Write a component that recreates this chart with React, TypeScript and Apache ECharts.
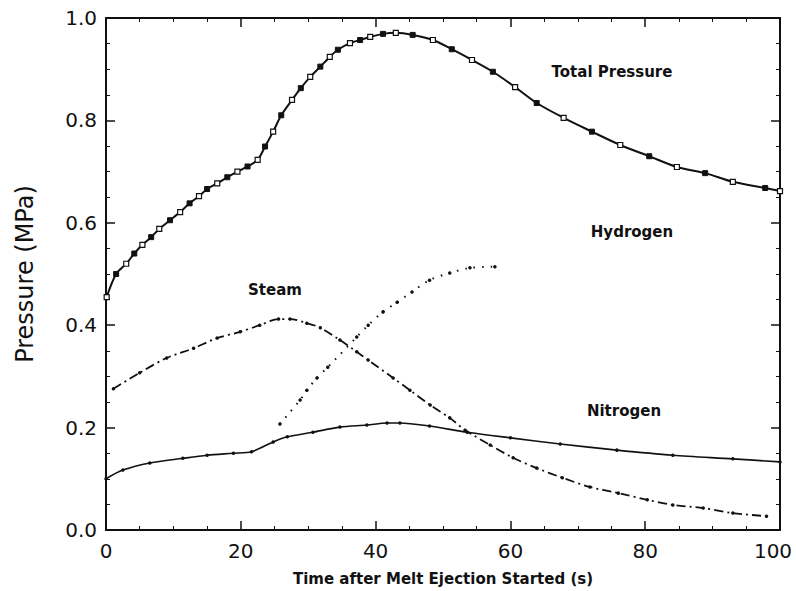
import React, { useEffect, useRef } from "react";
import * as echarts from "echarts";

const totalT = [0.1, 1.5, 3, 4.2, 5.4, 6.7, 7.9, 9.5, 11, 12.4, 13.8, 15, 16.5, 18, 19.5, 21, 22.5, 23.6, 24.8, 26, 27.6, 28.9, 30.3, 31.8, 33.2, 34.4, 36.2, 37.7, 39.2, 41.1, 43, 45.5, 48.5, 51.3, 54.3, 57.4, 60.7, 63.9, 67.9, 72.1, 76.3, 80.6, 84.7, 88.9, 93, 97.8, 100];
const totalP = [0.455, 0.5, 0.52, 0.54, 0.557, 0.572, 0.588, 0.605, 0.621, 0.638, 0.652, 0.666, 0.677, 0.689, 0.7, 0.71, 0.723, 0.749, 0.778, 0.81, 0.84, 0.863, 0.885, 0.905, 0.924, 0.938, 0.951, 0.957, 0.963, 0.969, 0.971, 0.967, 0.957, 0.939, 0.918, 0.895, 0.865, 0.834, 0.805, 0.778, 0.752, 0.73, 0.709, 0.697, 0.68, 0.668, 0.662];

const steamT = [1.1, 5, 9, 13, 16.5, 19.9, 22.8, 25.6, 27.3, 29.8, 31.8, 34.7, 37.2, 38.9, 42.6, 45.1, 48.1, 51, 53.3, 57, 60.4, 63.9, 67.7, 71.8, 76, 80.3, 84.1, 88.6, 93, 98];
const steamP = [0.276, 0.307, 0.336, 0.355, 0.375, 0.387, 0.4, 0.412, 0.412, 0.404, 0.395, 0.371, 0.348, 0.332, 0.297, 0.273, 0.244, 0.219, 0.195, 0.166, 0.141, 0.121, 0.102, 0.084, 0.072, 0.059, 0.049, 0.043, 0.033, 0.027];

const nitrogenT = [0, 2.5, 6.5, 11.4, 15, 18.9, 21.6, 24.8, 26.9, 30.7, 34.7, 38.7, 41.7, 43.6, 48, 53.6, 60, 67.4, 75.8, 84.1, 93, 100];
const nitrogenP = [0.1, 0.117, 0.131, 0.14, 0.146, 0.15, 0.153, 0.172, 0.182, 0.191, 0.201, 0.205, 0.209, 0.209, 0.203, 0.191, 0.18, 0.168, 0.156, 0.146, 0.139, 0.133];

const hydrogenT = [25.8, 28.8, 29.8, 31.3, 32.9, 37.2, 38.9, 41.1, 43.2, 45.4, 48, 51, 54, 57.7];
const hydrogenP = [0.207, 0.254, 0.273, 0.297, 0.318, 0.377, 0.4, 0.426, 0.445, 0.465, 0.488, 0.502, 0.512, 0.514];

const xTicks = [0, 20, 40, 60, 80, 100];
const yTicks = [0, 0.2, 0.4, 0.6, 0.8, 1.0];

const seriesLabels = [
  { text: "Total Pressure", x: 612, y: 72 },
  { text: "Hydrogen", x: 632, y: 232 },
  { text: "Steam", x: 275, y: 290 },
  { text: "Nitrogen", x: 624, y: 411 },
];

const zip = (a: number[], b: number[]) => a.map((v, i) => [v, b[i]]);

export default function App() {
  const ref = useRef<HTMLDivElement>(null);
  useEffect(() => {
    if (!ref.current) return;
    const chart = echarts.init(ref.current, null, { renderer: "svg" });
    const font = "'DejaVu Sans', 'Liberation Sans', sans-serif";
    const black = "#111";
    const baseAxis = {
      type: "value" as const,
      axisLine: { show: true, onZero: false, lineStyle: { color: black, width: 2 } },
      axisTick: { show: true, inside: true, length: 9, lineStyle: { color: black, width: 1.5 } },
      minorTick: { show: true, splitNumber: 4, length: 4, lineStyle: { color: black, width: 1 } },
      splitLine: { show: false },
    };
    const totalData = zip(totalT, totalP).map((d, i) => ({
      value: d,
      itemStyle: i % 2 === 0 ? { color: "#fff", borderColor: black, borderWidth: 1.2 } : { color: black, borderColor: black, borderWidth: 1 },
    }));
    const lastX = xTicks[xTicks.length - 1];
    chart.setOption({
      animation: false,
      backgroundColor: "#fff",
      grid: { left: 106, right: 16, top: 18, bottom: 61, containLabel: false, outerBoundsMode: "none" },
      xAxis: [
        {
          ...baseAxis,
          min: 0,
          max: 100,
          interval: 20,
          axisLabel: {
            color: black,
            fontSize: 20,
            fontFamily: font,
            margin: 11,
            formatter: (v: number) => (v === lastX ? `{r|${v}}` : xTicks.includes(v) ? String(v) : ""),
            rich: { r: { fontSize: 20, fontFamily: font, color: black, padding: [0, 14, 0, 0] } },
          },
          name: "Time after Melt Ejection Started (s)",
          nameLocation: "middle",
          nameGap: 41,
          nameTextStyle: { color: black, fontSize: 15, fontWeight: "bold", fontFamily: font },
        },
        { ...baseAxis, position: "top", min: 0, max: 100, interval: 20, axisLabel: { show: false } },
      ],
      yAxis: [
        {
          ...baseAxis,
          min: 0,
          max: 1,
          interval: 0.2,
          axisLabel: { color: black, fontSize: 20, fontFamily: font, margin: 9, formatter: (v: number) => (yTicks.some((t) => Math.abs(t - v) < 1e-6) ? v.toFixed(1) : "") },
          name: "Pressure (MPa)",
          nameLocation: "middle",
          nameGap: 69,
          nameRotate: 90,
          nameTextStyle: { color: black, fontSize: 24, fontFamily: font },
        },
        { ...baseAxis, position: "right", min: 0, max: 1, interval: 0.2, axisLabel: { show: false } },
      ],
      series: [
        {
          name: "Total Pressure",
          type: "line",
          data: totalData,
          symbol: "rect",
          symbolSize: 5,
          lineStyle: { color: black, width: 2 },
          smooth: 0.3,
        },
        {
          name: "Steam",
          type: "line",
          data: zip(steamT, steamP),
          symbol: "circle",
          symbolSize: 3.5,
          itemStyle: { color: black },
          lineStyle: { color: black, width: 1.8, type: [9, 4, 2, 4] },
          smooth: 0.3,
        },
        {
          name: "Nitrogen",
          type: "line",
          data: zip(nitrogenT, nitrogenP),
          symbol: "circle",
          symbolSize: 3.5,
          itemStyle: { color: black },
          lineStyle: { color: black, width: 1.6 },
          smooth: 0.3,
        },
        {
          name: "Hydrogen",
          type: "line",
          data: zip(hydrogenT, hydrogenP),
          symbol: "circle",
          symbolSize: 3.5,
          itemStyle: { color: black },
          lineStyle: { color: black, width: 2, type: [1.5, 7] },
          smooth: 0.3,
        },
      ],
      graphic: seriesLabels.map((l) => ({
        type: "text",
        x: l.x,
        y: l.y,
        style: {
          text: l.text,
          fill: black,
          font: `bold 15px ${font}`,
          textAlign: "center",
          textVerticalAlign: "middle",
        },
      })),
    });
    return () => chart.dispose();
  }, []);
  return <div ref={ref} style={{ position: "fixed", left: 0, top: 0, width: 796, height: 591, background: "#fff" }} />;
}
